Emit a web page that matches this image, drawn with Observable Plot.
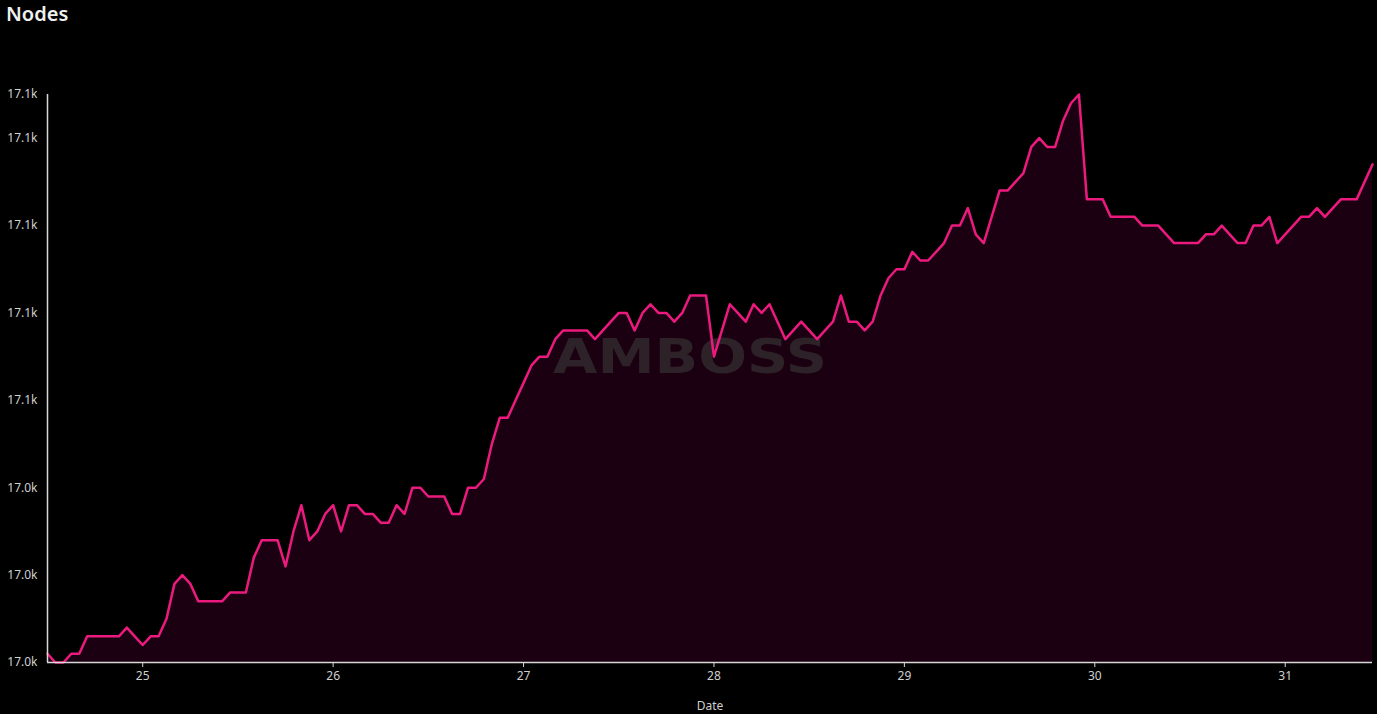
<!DOCTYPE html>
<html><head><meta charset="utf-8">
<script src="https://cdn.jsdelivr.net/npm/d3@7"></script>
<script src="https://cdn.jsdelivr.net/npm/@observablehq/plot@0.6"></script>
<style>
html,body{margin:0;padding:0;background:#000;}
#title{height:40px;line-height:28px;padding-left:6px;color:#f0f0f0;font-family:"Noto Sans",sans-serif;font-size:20px;font-weight:600;box-sizing:border-box;}
#chart svg{display:block;}
</style></head><body>
<div id="title">Nodes</div>
<div id="chart"></div>
<script>
// hourly node counts starting 24th 12:00 UTC
const startTime = "2023-07-24T12:00:00Z";
const nodeCounts = [
17021,17020,17020,17021,17021,17023,17023,17023,17023,17023,
17024,17023,17022,17023,17023,17025,17029,17030,17029,17027,
17027,17027,17027,17028,17028,17028,17032,17034,17034,17034,
17031,17035,17038,17034,17035,17037,17038,17035,17038,17038,
17037,17037,17036,17036,17038,17037,17040,17040,17039,17039,
17039,17037,17037,17040,17040,17041,17045,17048,17048,17050,
17052,17054,17055,17055,17057,17058,17058,17058,17058,17057,
17058,17059,17060,17060,17058,17060,17061,17060,17060,17059,
17060,17062,17062,17062,17055,17058,17061,17060,17059,17061,
17060,17061,17059,17057,17058,17059,17058,17057,17058,17059,
17062,17059,17059,17058,17059,17062,17064,17065,17065,17067,
17066,17066,17067,17068,17070,17070,17072,17069,17068,17071,
17074,17074,17075,17076,17079,17080,17079,17079,17082,17084,
17085,17073,17073,17073,17071,17071,17071,17071,17070,17070,
17070,17069,17068,17068,17068,17068,17069,17069,17070,17069,
17068,17068,17070,17070,17071,17068,17069,17070,17071,17071,
17072,17071,17072,17073,17073,17073,17075,17077
];
const yDomain = [17020, 17085];
const yTicks = [17020, 17030, 17040, 17050, 17060, 17070, 17080, 17085];
const dayTicks = ["2023-07-25","2023-07-26","2023-07-27","2023-07-28","2023-07-29","2023-07-30","2023-07-31"];
const watermark = ["AMBOSS"];
const xLabel = ["Date"];

const t0 = new Date(startTime).getTime();
const data = nodeCounts.map((v, i) => ({time: new Date(t0 + i * 3600e3), value: v}));
const times = data.map(d => d.time);
const fmtK = d => (Math.round(d / 100) / 10).toFixed(1) + "k";

const chart = Plot.plot({
  width: 1377,
  height: 674,
  marginTop: 54,
  marginBottom: 52,
  marginLeft: 47,
  marginRight: 5,
  style: {background: "#000", color: "#cfcfcf", fontFamily: "'Noto Sans', sans-serif", fontSize: "12px"},
  x: {type: "utc", domain: [times[0], times[times.length - 1]]},
  y: {domain: yDomain},
  marks: [
    Plot.areaY(data, {x: "time", y1: yDomain[0], y2: "value", fill: "#1b0011"}),
    Plot.text(watermark, {text: d => d, frameAnchor: "middle", dx: -20, dy: -21,
      fill: "#2d2227", fontSize: 48, fontWeight: "bold", fontFamily: "'DejaVu Sans', sans-serif"}),
    Plot.lineY(data, {x: "time", y: "value", stroke: "#ec1a7f", strokeWidth: 2.5, strokeLinejoin: "round"}),
    Plot.ruleY([yDomain[0]], {stroke: "#d8d8d8", strokeWidth: 1.5}),
    Plot.ruleX([times[0]], {y1: yDomain[0], y2: yDomain[1], stroke: "#d8d8d8", strokeWidth: 1.5}),
    Plot.axisX({ticks: dayTicks.map(d => new Date(d + "T00:00:00Z")), tickFormat: d3.utcFormat("%-d"),
      tickSize: 5, tickPadding: 4, label: null, stroke: "#d8d8d8"}),
    Plot.axisY({ticks: yTicks, tickFormat: fmtK, tickSize: 0, tickPadding: 10, label: null}),
    Plot.text(xLabel, {text: d => d, frameAnchor: "bottom", dy: 47, fill: "#cfcfcf", fontSize: 12})
  ]
});
d3.select(chart).selectAll("text")
  .filter(function() { return this.textContent === watermark[0]; })
  .attr("textLength", 274).attr("lengthAdjust", "spacingAndGlyphs");
document.getElementById("chart").appendChild(chart);
</script>
</body></html>
